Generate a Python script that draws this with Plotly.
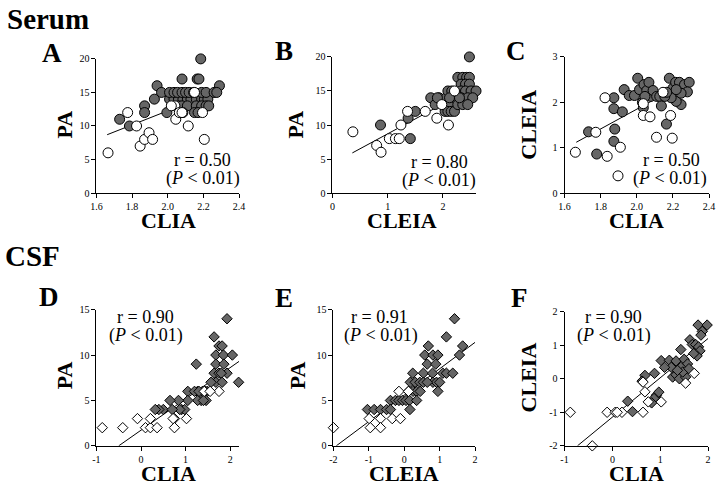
import plotly.graph_objects as go

# ---------------- DATA ----------------
# Panel A: Serum, CLIA (x) vs PA (y)
A_gray_x = [1.73, 1.785, 1.87, 1.87, 1.925, 1.94, 1.965, 1.995,
            2.01, 2.035, 2.06, 2.085, 2.11, 2.13, 2.16, 2.19, 2.205, 2.225,
            2.01, 2.035, 2.055, 2.08, 2.10, 2.12, 2.145, 2.19, 2.215, 2.26,
            2.06, 2.08, 2.11, 2.16, 2.19, 2.215, 2.23,
            2.085, 2.15, 2.17, 2.29, 2.08, 2.165, 2.175, 2.185, 2.275]
A_gray_y = [11, 10, 13, 12, 14, 16, 15, 12,
            14, 14, 14, 14, 14, 14, 14, 14, 14, 14,
            15, 15, 15, 15, 15, 15, 15, 15, 15, 15,
            13, 13, 13, 13, 13, 13, 13,
            12, 12, 12, 16, 17, 17, 17, 20, 15]
A_white_x = [1.665, 1.775, 1.825, 1.845, 1.87, 1.895, 1.915, 2.04, 2.045, 2.065, 2.08, 2.115, 2.15, 2.195, 2.205, 2.02]
A_white_y = [6, 12, 10, 7, 8, 9, 8, 13, 11, 12, 12, 10, 15, 12, 8, 13]
A_fit_x = [1.66, 2.29]
A_fit_y = [8.7, 15.3]

# Panel B: Serum, CLEIA (x) vs PA (y)
B_gray_x = [0.87, 1.41, 1.37, 1.5, 1.78, 1.86, 1.93, 2.0, 2.06, 2.09, 2.16, 2.14, 2.04, 2.09, 2.15, 2.21,
            2.21, 2.27, 2.27, 2.36, 2.43, 2.48, 2.33, 2.41, 2.48, 2.33, 2.41, 2.51, 2.6, 2.33, 2.45, 2.54,
            2.36, 2.45, 2.48, 1.9, 2.12, 2.3]
B_gray_y = [10, 8, 11, 12, 14, 13, 14, 13, 14, 15, 15, 13, 12, 12, 12, 12,
            14, 13, 17, 17, 17, 17, 16, 16, 16, 15, 15, 15, 15, 14, 14, 14,
            13, 13, 20, 14, 14, 14]
B_white_x = [0.37, 0.8, 0.88, 1.03, 1.14, 1.21, 1.24, 1.36, 1.68, 1.89, 1.98, 2.1, 2.21]
B_white_y = [9, 7, 6, 8, 8, 8, 10, 12, 12, 11, 13, 10, 15]
B_fit_x = [0.36, 2.55]
B_fit_y = [5.9, 15.5]

# Panel C: Serum, CLIA (x) vs CLEIA (y)
C_gray_x = [1.733, 1.778, 1.873, 1.873, 1.878, 1.873, 1.92, 1.93, 1.958, 1.987, 2.005, 2.015, 2.031,
            2.04, 2.055, 2.067, 2.078, 2.09, 2.11, 2.127, 2.136, 2.164, 2.18, 2.2, 2.215, 2.236,
            2.264, 2.245, 2.29, 2.28, 2.218, 2.19, 2.036, 2.045, 2.155, 2.245, 2.218, 2.165]
C_gray_y = [1.35, 0.86, 2.1, 1.86, 1.41, 1.14, 1.79, 2.28, 2.15, 2.15, 2.53, 2.28, 2.0,
            2.39, 2.26, 2.44, 2.13, 2.26, 2.13, 2.13, 1.92, 1.52, 2.53, 2.31, 2.44, 2.44,
            2.39, 1.95, 2.44, 2.23, 2.02, 2.1, 1.88, 2.13, 2.13, 2.2, 2.28, 2.22]
C_white_x = [1.66, 1.773, 1.824, 1.836, 1.909, 1.896, 2.036, 2.036, 2.073, 2.109, 2.145, 2.187, 2.196]
C_white_y = [0.9, 1.34, 2.1, 0.81, 1.01, 0.38, 1.97, 1.71, 1.68, 1.23, 2.22, 1.71, 1.21]
C_fit_x = [1.665, 2.29]
C_fit_y = [1.12, 2.48]

# Panel D: CSF, CLIA (x) vs PA (y)
D_gray_x = [1.93, 1.64, 1.24, 1.75, 1.82, 1.68, 1.85, 2.05, 1.68, 1.86, 1.64, 1.75, 1.93, 1.80,
            1.68, 1.82, 2.19, 1.57, 1.49, 1.38, 1.27, 1.05, 1.45, 1.46, 1.35, 1.27, 1.40, 1.05,
            0.84, 0.65, 0.50, 0.40, 0.32, 0.91, 0.98, 0.87, 0.70, 1.2, 1.3]
D_gray_y = [14, 12, 9, 11, 11, 10, 10, 10, 9, 9, 8, 8, 8, 8,
            7, 7, 7, 7, 6, 6, 6, 6, 6, 5, 5, 5, 5, 5,
            5, 5, 4, 4, 4, 4, 4, 4, 4, 6, 6]
D_white_x = [-0.87, -0.41, -0.08, 0.10, 0.21, 0.36, 0.21, 0.75, 0.72, 0.75, 1.02, 1.42, 1.75, 1.55]
D_white_y = [2, 2, 3, 2, 2, 2, 3, 3, 3, 2, 3, 6, 6, 6]
D_fit_x = [-0.5, 2.2]
D_fit_y = [0.0, 9.3]

# Panel E: CSF, CLEIA (x) vs PA (y)
E_gray_x = [1.42, 1.19, 0.68, 1.65, 0.58, 0.81, 0.95, 1.56, 0.65, 0.89, 0.24, 0.54, 0.80, 1.09,
            1.19, 1.37, 0.17, 0.31, 0.44, 0.54, 0.81, 0.91, 0.12, 0.25, 0.35, 0.45, 0.95,
            -0.39, -0.25, -0.15, -0.05, 0.05, 0.15, 0.35, 0.16, -1.04, -0.85, -0.67, -0.5, -0.39, 0.65, 1.0]
E_gray_y = [14, 12, 11, 11, 10, 10, 10, 10, 9, 9, 8, 8, 8, 8,
            8, 8, 7, 7, 7, 7, 7, 7, 6, 6, 6, 6, 6,
            5, 5, 5, 5, 5, 5, 5, 4, 4, 4, 4, 4, 4, 7, 7]
E_white_x = [-2.0, -0.99, -0.96, -0.67, -0.67, -0.34, -0.11, -0.15, 0.12]
E_white_y = [2, 3, 2, 3, 2, 3, 3, 6, 6]
E_fit_x = [-1.92, 2.0]
E_fit_y = [0.0, 11.4]

# Panel F: CSF, CLIA (x) vs CLEIA (y)
F_gray_x = [1.79, 1.98, 1.88, 1.85, 1.62, 1.67, 1.74, 1.80, 1.43, 1.83, 1.77, 1.70, 1.02, 1.19,
            1.33, 1.50, 1.57, 1.43, 1.23, 1.09, 1.26, 1.33, 1.40, 1.53, 1.47, 0.68, 0.62, 0.88,
            0.92, 0.87, 0.82, 0.97, 0.32, 0.42, 1.36, 1.6]
F_gray_y = [1.60, 1.60, 1.41, 1.30, 1.16, 1.02, 1.02, 0.95, 0.87, 0.83, 0.68, 0.75, 0.54, 0.55,
            0.53, 0.58, 0.44, 0.34, 0.34, 0.34, 0.05, 0.12, 0.0, 0.05, 0.20, 0.10, -0.07, 0.16,
            -0.49, -0.59, -0.72, -0.40, -0.67, -0.98, 0.25, 0.3]
F_white_x = [-0.88, -0.42, -0.11, 0.06, 0.20, 0.10, 0.64, 0.68, 0.75, 1.02, 1.53, 1.71, 0.64]
F_white_y = [-1.0, -2.0, -1.0, -1.0, -1.0, -1.0, -1.0, -0.39, -0.69, -0.69, -0.13, 0.16, -0.1]
F_fit_x = [-0.73, 2.0]
F_fit_y = [-2.0, 1.2]

# tick labels
tick_clia_serum = [1.6, 1.8, 2.0, 2.2, 2.4]
tick_clia_serum_text = ["1.6", "1.8", "2.0", "2.2", "2.4"]
tick_B_x = [0, 1, 2]
tick_B_x_text = ["0", "1", "2"]
tick_pa_serum = [0, 5, 10, 15, 20]
tick_cleia_serum = [0, 1, 2, 3]
tick_D_x = [-1, 0, 1, 2]
tick_D_x_text = ["-1", "0", "1", "2"]
tick_E_x = [-2, -1, 0, 1, 2]
tick_E_x_text = ["-2", "-1", "0", "1", "2"]
tick_pa_csf = [0, 5, 10, 15]
tick_F_y = [-2, -1, 0, 1, 2]
tick_F_y_text = ["-2", "-1", "0", "1", "2"]

stats = {"A": "0.50", "B": "0.80", "C": "0.50", "D": "0.90", "E": "0.91", "F": "0.90"}

# ---------------- LAYOUT ----------------
W, H = 720, 491
GRAY = "#666666"
SERIF = "Liberation Serif"

def fx(px):
    return px / W

def fy(py):
    return 1 - py / H

panels = [
    ("A", (92, 237), (55, 192), [1.6, 2.4], [0, 20], tick_clia_serum, tick_clia_serum_text,
     tick_pa_serum, [str(v) for v in tick_pa_serum], "circle",
     (A_gray_x, A_gray_y, A_white_x, A_white_y, A_fit_x, A_fit_y)),
    ("B", (332, 478), (53, 192), [0, 2.6], [0, 20], tick_B_x, tick_B_x_text,
     tick_pa_serum, [str(v) for v in tick_pa_serum], "circle",
     (B_gray_x, B_gray_y, B_white_x, B_white_y, B_fit_x, B_fit_y)),
    ("C", (568, 715), (53, 192), [1.6, 2.4], [0, 3], tick_clia_serum, tick_clia_serum_text,
     tick_cleia_serum, [str(v) for v in tick_cleia_serum], "circle",
     (C_gray_x, C_gray_y, C_white_x, C_white_y, C_fit_x, C_fit_y)),
    ("D", (92, 237), (311, 450), [-1, 2.2], [0, 15], tick_D_x, tick_D_x_text,
     tick_pa_csf, [str(v) for v in tick_pa_csf], "diamond",
     (D_gray_x, D_gray_y, D_white_x, D_white_y, D_fit_x, D_fit_y)),
    ("E", (333, 477), (311, 450), [-2, 2], [0, 15], tick_E_x, tick_E_x_text,
     tick_pa_csf, [str(v) for v in tick_pa_csf], "diamond",
     (E_gray_x, E_gray_y, E_white_x, E_white_y, E_fit_x, E_fit_y)),
    ("F", (568, 714), (313, 450), [-1, 2], [-2, 2], tick_D_x, tick_D_x_text,
     tick_F_y, tick_F_y_text, "diamond",
     (F_gray_x, F_gray_y, F_white_x, F_white_y, F_fit_x, F_fit_y)),
]

fig = go.Figure()
layout = dict(
    width=W, height=H, margin=dict(l=0, r=0, t=0, b=0),
    paper_bgcolor="white", plot_bgcolor="white", showlegend=False,
    font=dict(family=SERIF, color="black"),
)

for i, (name, xpx, ypx, xr, yr, xt, xtt, yt, ytt, sym, data) in enumerate(panels):
    k = "" if i == 0 else str(i + 1)
    gx, gy, wx, wy, lx, ly = data
    msize = 10 if sym == "circle" else 8
    fig.add_trace(go.Scatter(x=lx, y=ly, mode="lines", line=dict(color="black", width=1),
                             xaxis="x" + k, yaxis="y" + k, hoverinfo="skip"))
    fig.add_trace(go.Scatter(x=gx, y=gy, mode="markers", xaxis="x" + k, yaxis="y" + k,
                             cliponaxis=False,
                             marker=dict(symbol=sym, size=msize, color=GRAY,
                                         line=dict(color="black", width=1))))
    fig.add_trace(go.Scatter(x=wx, y=wy, mode="markers", xaxis="x" + k, yaxis="y" + k,
                             cliponaxis=False,
                             marker=dict(symbol=sym, size=msize, color="white",
                                         line=dict(color="black", width=1))))
    common = dict(showline=True, linecolor="black", linewidth=1, ticks="outside", ticklen=4,
                  tickcolor="black", showgrid=False, zeroline=False,
                  tickfont=dict(family=SERIF, size=10, color="black"), fixedrange=True)
    layout["xaxis" + k] = dict(domain=[fx(xpx[0]), fx(xpx[1])], range=xr, anchor="y" + k,
                               tickmode="array", tickvals=xt, ticktext=xtt, **common)
    layout["yaxis" + k] = dict(domain=[fy(ypx[1]), fy(ypx[0])], range=yr, anchor="x" + k,
                               tickmode="array", tickvals=yt, ticktext=ytt, **common)

fig.update_layout(**layout)

def ann(text, px, py, size, bold=False, angle=0):
    t = "<b>%s</b>" % text if bold else text
    fig.add_annotation(text=t, x=fx(px), y=fy(py), xref="paper", yref="paper",
                       xanchor="center", yanchor="middle", showarrow=False, textangle=angle,
                       font=dict(family=SERIF, size=size, color="black"))

# section titles
ann("Serum", 43, 14, 29, bold=True)
ann("CSF", 27, 256, 29, bold=True)
# panel letters
for name, px, py in [("A", 47, 49), ("B", 283, 47), ("C", 519, 47),
                     ("D", 44, 298), ("E", 283, 299), ("F", 522, 299)]:
    ann(name, px, py, 27, bold=True)

# axis titles
ann("PA", 59, 122, 22, bold=True, angle=-90)
ann("PA", 294, 122, 22, bold=True, angle=-90)
ann("CLEIA", 531, 122, 22, bold=True, angle=-90)
ann("PA", 59, 378, 22, bold=True, angle=-90)
ann("PA", 296, 378, 22, bold=True, angle=-90)
ann("CLEIA", 531, 380, 22, bold=True, angle=-90)
ann("CLIA", 165, 220, 22, bold=True)
ann("CLEIA", 403, 220, 22, bold=True)
ann("CLIA", 641, 220, 22, bold=True)
ann("CLIA", 165, 478.5, 22, bold=True)
ann("CLEIA", 405, 478.5, 22, bold=True)
ann("CLIA", 641, 478.5, 22, bold=True)

# statistics
pos = {"A": (200, 158, 200, 177), "B": (441, 160, 440, 179), "C": (677, 158, 675, 177),
       "D": (142, 318, 142, 337), "E": (380, 318, 381, 337), "F": (618, 318, 618, 337)}
for name, (x1, y1, x2, y2) in pos.items():
    ann("r = " + stats[name], x1, y1, 18)
    ann("(<i>P</i> &lt; 0.01)", x2, y2, 18)

fig.write_html("out.html", config={"displayModeBar": False},
               post_script="document.body.style.margin='0';document.body.style.overflow='hidden';")
